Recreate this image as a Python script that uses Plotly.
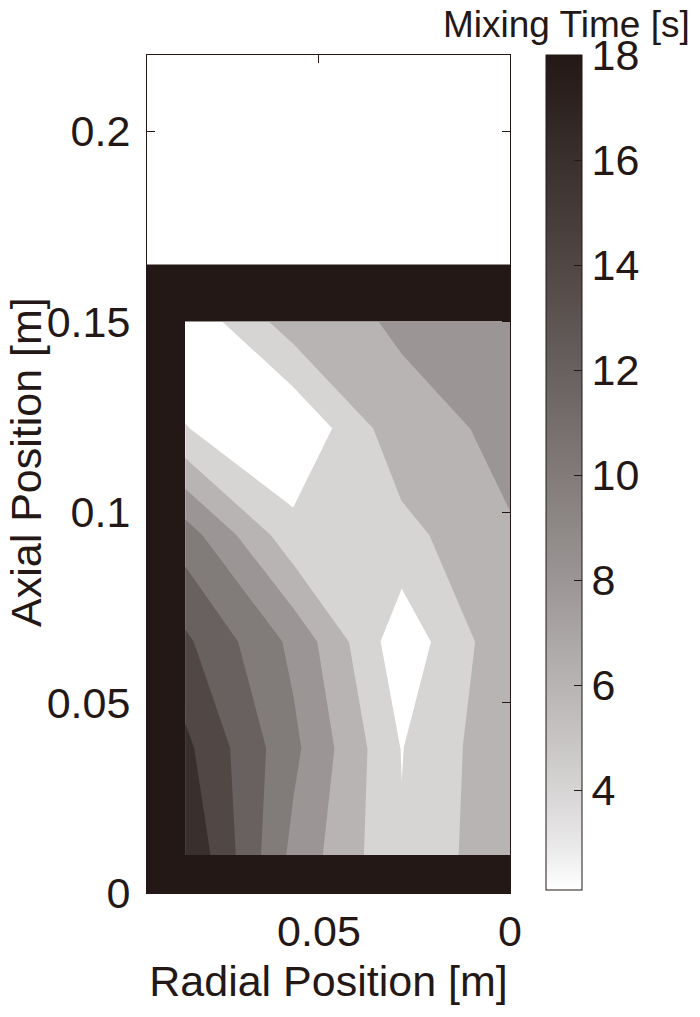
import plotly.graph_objects as go

# ---------------- data ----------------
RADIAL = [0.0, 0.02833, 0.05667, 0.085]          # radial position [m]
AXIAL = [0.01, 0.038, 0.066, 0.094, 0.122, 0.15]  # axial position [m]
MIXING_TIME = [                                    # rows follow AXIAL, columns follow RADIAL
    [7.66, 4.16, 9.43, 18.0],
    [7.60, 3.93, 10.48, 16.5],
    [7.58, 2.67, 9.50, 14.38],
    [7.90, 5.35, 4.66, 11.0],
    [8.35, 7.40, 2.10, 4.08],
    [9.60, 8.26, 7.04, 2.41],
]
LEVEL_START, LEVEL_END, LEVEL_STEP = 4, 16, 2
CB_MIN, CB_MAX = 2.1, 18.0

# vessel wall (drawn at the top of the scale)
WALL_X_EDGES = [0.0, 0.085, 0.095]
WALL_Y_EDGES = [0.0, 0.01, 0.15, 0.165]
WALL_Z = [[18, 18], [None, 18], [18, 18]]

X_TICKS = [0.05, 0.0]
Y_TICKS = [0, 0.05, 0.1, 0.15, 0.2]
CB_TICKS = [4, 6, 8, 10, 12, 14, 16, 18]

X_RANGE = [0.095, 0.0]
Y_RANGE = [0.0, 0.22]

# ---------------- colours ----------------
DARK = (35, 24, 21)
GAMMA = 0.8


def cmap(v):
    t = min(max((v - CB_MIN) / (CB_MAX - CB_MIN), 0.0), 1.0)
    d = t ** GAMMA
    r, g, b = (round(255 - (255 - c) * d) for c in DARK)
    return f"rgb({r},{g},{b})"


# continuous scale for the colour bar
n_stops = 21
bar_scale = [[i / (n_stops - 1), cmap(CB_MIN + (CB_MAX - CB_MIN) * i / (n_stops - 1))]
             for i in range(n_stops)]

# band colours: each band takes the colour of its lower level (background = minimum)
band_lower = [CB_MIN] + list(range(LEVEL_START, LEVEL_END + 1, LEVEL_STEP))
nb = len(band_lower) - 1
contour_scale = [[k / nb, cmap(v)] for k, v in enumerate(band_lower)]

TEXT = "#231815"
FONT = "Liberation Sans, Arial, sans-serif"
TICK_SIZE = 43
TITLE_SIZE = 43

# the page body adds an 8 px offset, so the figure is laid out 8 px smaller
OFF = 8
W, H = 700 - OFF, 1017 - OFF
L, T = 147 - OFF, 55 - OFF
PW, PH = 363, 838
R, B = W - L - PW, H - T - PH

fig = go.Figure()

fig.add_trace(go.Heatmap(
    x=WALL_X_EDGES, y=WALL_Y_EDGES, z=WALL_Z,
    zmin=CB_MIN, zmax=CB_MAX, colorscale=bar_scale,
    hoverinfo="skip", showscale=True,
    colorbar=dict(
        x=(546 - 147) / PW, xanchor="left", xpad=0,
        y=1, yanchor="top", ypad=0,
        len=835 / PH, lenmode="fraction",
        thickness=36, thicknessmode="pixels",
        outlinewidth=1, outlinecolor=TEXT,
        ticks="inside", ticklen=8, tickcolor=TEXT,
        tickvals=CB_TICKS,
        tickfont=dict(size=TICK_SIZE, color=TEXT, family=FONT),
    ),
))

fig.add_trace(go.Contour(
    x=RADIAL, y=AXIAL, z=MIXING_TIME,
    autocontour=False,
    contours=dict(start=LEVEL_START, end=LEVEL_END, size=LEVEL_STEP,
                  coloring="fill", showlines=False),
    line=dict(width=0, smoothing=0),
    colorscale=contour_scale, showscale=False,
    hoverinfo="skip",
))

axis_common = dict(
    showline=True, linecolor=TEXT, linewidth=1, mirror="ticks",
    ticks="inside", ticklen=8, tickcolor=TEXT,
    showgrid=False, zeroline=False, automargin=False,
    tickfont=dict(size=TICK_SIZE, color=TEXT, family=FONT),
)

fig.update_layout(
    width=W, height=H,
    margin=dict(l=L, r=R, t=T, b=B, autoexpand=False),
    paper_bgcolor="white", plot_bgcolor="white",
    font=dict(family=FONT, color=TEXT),
    xaxis=dict(range=X_RANGE, tickvals=X_TICKS,
               title=dict(text="Radial Position [m]", standoff=12,
                          font=dict(size=TITLE_SIZE, color=TEXT, family=FONT)),
               **axis_common),
    yaxis=dict(range=Y_RANGE, tickvals=Y_TICKS, ticklabelstandoff=7,
               **axis_common),
    annotations=[
        dict(text="Mixing Time [s]", xref="paper", yref="paper",
             x=(692 - 147) / PW, xanchor="right",
             y=1 + (55 - 24) / PH, yanchor="middle",
             showarrow=False, font=dict(size=37, color=TEXT, family=FONT)),
        dict(text="Axial Position [m]", xref="paper", yref="paper",
             x=(26 - 147) / PW, xanchor="center",
             y=(893 - 462) / PH, yanchor="middle", textangle=-90,
             showarrow=False, font=dict(size=TITLE_SIZE, color=TEXT, family=FONT)),
    ],
)

fig.write_html("out.html")
